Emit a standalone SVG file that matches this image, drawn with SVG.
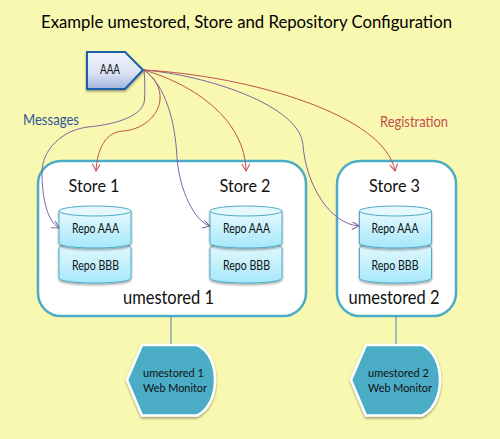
<svg xmlns="http://www.w3.org/2000/svg" width="500" height="439" viewBox="0 0 500 439">
<style>
text{font-family:Lato,"Liberation Sans",sans-serif;text-anchor:middle;fill:#111}
.title{font-size:18px;fill:#000}
.store{font-size:17px}
.um{font-size:18.500px}
.repo{font-size:13px}
.mon{font-size:11.500px;text-anchor:start}
.box{fill:#fff;stroke:#4bacc6;stroke-width:2.5}
.cyl{fill:url(#cy);stroke:#4bacc6;stroke-width:1;filter:url(#sh)}
.cap{fill:#e4f8fd;stroke:#4bacc6;stroke-width:1}
.m{fill:none;stroke:#8064a2;stroke-width:1;marker-end:url(#am)}
.r{fill:none;stroke:#c0504d;stroke-width:1;marker-end:url(#ar)}
.l{fill:none;stroke:#4f81bd;stroke-width:1}
.web{fill:#4bacc6;stroke:#fff;stroke-width:2.5;filter:url(#sh)}
</style>
<defs>
<linearGradient id="cy" x1="0" y1="0" x2="0" y2="1"><stop offset="0" stop-color="#e6f9fd"/><stop offset="1" stop-color="#a6e8fb"/></linearGradient>
<linearGradient id="aaa" x1="0" y1="0" x2="0" y2="1"><stop offset="0" stop-color="#f0f3fb"/><stop offset=".6" stop-color="#d8e0f2"/><stop offset="1" stop-color="#9fb3de"/></linearGradient>
<filter id="sh" x="-15%" y="-15%" width="130%" height="135%"><feDropShadow dx="0" dy="1.5" stdDeviation="1.2" flood-color="#000" flood-opacity=".4"/></filter>
<marker id="am" markerWidth="10" markerHeight="10" refX="8" refY="4" orient="auto" markerUnits="userSpaceOnUse"><path d="M1 0L8 4L1 8" fill="none" stroke="#8064a2"/></marker>
<marker id="ar" markerWidth="10" markerHeight="10" refX="8" refY="4" orient="auto" markerUnits="userSpaceOnUse"><path d="M1 0L8 4L1 8" fill="none" stroke="#c0504d"/></marker>
</defs>
<rect width="500" height="439" fill="#f8f8b0"/>
<text class="title" x="246.500" y="28" textLength="411" lengthAdjust="spacingAndGlyphs">Example umestored, Store and Repository Configuration</text>
<g id="umestored1"><rect class="box" x="38" y="161" width="268" height="155" rx="23"/><text class="um" x="168.500" y="304" textLength="91" lengthAdjust="spacingAndGlyphs">umestored 1</text></g>
<g id="umestored2"><rect class="box" x="337" y="161" width="119" height="155" rx="23"/><text class="um" x="394" y="304" textLength="91" lengthAdjust="spacingAndGlyphs">umestored 2</text></g>
<g id="store1"><text class="store" x="94" y="192" textLength="51" lengthAdjust="spacingAndGlyphs">Store 1</text>
<path class="cyl" d="M59 248c0-3 16-5 36-5s36 2 36 5v30c0 3-16 5-36 5s-36-2-36-5z"/><text class="repo" x="95.500" y="270" textLength="47" lengthAdjust="spacingAndGlyphs">Repo BBB</text>
<path class="cyl" d="M59 211v32c0 3 16 5 36 5s36-2 36-5v-32z"/><ellipse class="cap" cx="95" cy="211" rx="36" ry="5"/><text class="repo" x="95.500" y="233" textLength="47" lengthAdjust="spacingAndGlyphs">Repo AAA</text></g>
<g id="store2"><text class="store" x="245" y="192" textLength="51" lengthAdjust="spacingAndGlyphs">Store 2</text>
<path class="cyl" d="M210 248c0-3 16-5 36-5s36 2 36 5v30c0 3-16 5-36 5s-36-2-36-5z"/><text class="repo" x="246.500" y="270" textLength="47" lengthAdjust="spacingAndGlyphs">Repo BBB</text>
<path class="cyl" d="M210 211v32c0 3 16 5 36 5s36-2 36-5v-32z"/><ellipse class="cap" cx="246" cy="211" rx="36" ry="5"/><text class="repo" x="246.500" y="233" textLength="47" lengthAdjust="spacingAndGlyphs">Repo AAA</text></g>
<g id="store3"><text class="store" x="394.500" y="192" textLength="51" lengthAdjust="spacingAndGlyphs">Store 3</text>
<path class="cyl" d="M359.500 248c0-3 16-5 36-5s36 2 36 5v30c0 3-16 5-36 5s-36-2-36-5z"/><text class="repo" x="395" y="270" textLength="47" lengthAdjust="spacingAndGlyphs">Repo BBB</text>
<path class="cyl" d="M359.500 211v32c0 3 16 5 36 5s36-2 36-5v-32z"/><ellipse class="cap" cx="395.500" cy="211" rx="36" ry="5"/><text class="repo" x="395" y="233" textLength="47" lengthAdjust="spacingAndGlyphs">Repo AAA</text></g>
<g id="connectors">
<path class="m" d="M144 70C145 80 145 90 144.500 100C143 118 110 125 88 127C62 130 42 150 42 172C42 195 46 220 59 228"/>
<path class="r" d="M144 70C155 78 161 88 160 100C158 118 140 130 123 131C105 132 97 150 96 171"/>
<path class="m" d="M144 70C165 85 175 120 177 157C179 190 195 222 210 226"/>
<path class="r" d="M144 70C195 85 245 120 246 171"/>
<path class="m" d="M144 70C205 75 300 105 303 145C306 185 330 224 359 226"/>
<path class="r" d="M144 70C250 76 385 115 395 171"/>
<path class="l" d="M171 316V345"/>
<path class="l" d="M396 316V345"/>
</g>
<g id="aaa-node"><path d="M87 52H125L143 70L125 89H87Z" fill="url(#aaa)" stroke="#1f5ea8" stroke-width="2" filter="url(#sh)"/><text class="repo" x="110" y="74" textLength="20" lengthAdjust="spacingAndGlyphs">AAA</text></g>
<g id="monitor1"><path class="web" d="M142 345H197C209 350 215 365 215 380C215 395 209 410 197 415.500H142L127 380Z"/><text class="mon" x="143" y="377" textLength="61" lengthAdjust="spacingAndGlyphs">umestored 1</text><text class="mon" x="143" y="392" textLength="64" lengthAdjust="spacingAndGlyphs">Web Monitor</text></g>
<g id="monitor2"><path class="web" d="M366 345H422C434 350 440 365 440 380C440 395 434 410 422 415.500H366L351 380Z"/><text class="mon" x="368" y="377" textLength="61" lengthAdjust="spacingAndGlyphs">umestored 2</text><text class="mon" x="368" y="392" textLength="64" lengthAdjust="spacingAndGlyphs">Web Monitor</text></g>
<text x="51" y="125" font-size="15" textLength="56" lengthAdjust="spacingAndGlyphs" style="fill:#2f5597">Messages</text>
<text x="414" y="127" font-size="15" textLength="68" lengthAdjust="spacingAndGlyphs" style="fill:#c0504d">Registration</text>
</svg>
